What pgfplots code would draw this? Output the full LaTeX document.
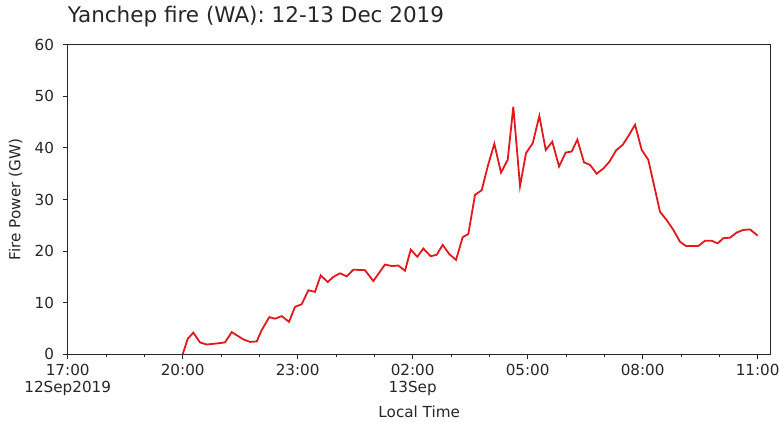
\documentclass[border=0pt]{standalone}
\usepackage{fontspec}
\setmainfont{DejaVu Sans}
\usepackage{pgfplots}
\pgfplotsset{compat=1.18}
\definecolor{firered}{RGB}{226,24,28}
\definecolor{ink}{RGB}{38,38,38}

% hours since 17:00 local time (12 Sep), fire power in GW
\pgfplotstableread{
h      gw
3.000  0.0
3.131  3.0
3.277  4.2
3.452  2.3
3.626  1.9
3.887  2.1
4.104  2.3
4.279  4.3
4.409  3.7
4.581  2.9
4.756  2.4
4.931  2.5
5.061  4.7
5.260  7.2
5.408  6.9
5.583  7.4
5.774  6.3
5.930  9.2
6.105  9.7
6.277  12.4
6.452  12.1
6.601  15.3
6.783  14.0
6.929  15.0
7.104  15.7
7.279  15.1
7.451  16.4
7.756  16.3
7.973  14.2
8.278  17.4
8.453  17.1
8.625  17.2
8.800  16.2
8.949  20.3
9.121  18.9
9.277  20.5
9.470  19.0
9.627  19.3
9.783  21.2
9.956  19.4
10.131 18.3
10.305 22.7
10.451 23.3
10.626 30.9
10.801 31.8
10.957 36.4
11.130 40.8
11.304 35.2
11.479 37.7
11.625 48.0
11.800 32.6
11.957 39.0
12.131 40.9
12.304 46.2
12.471 39.6
12.643 41.2
12.818 36.4
12.992 39.1
13.149 39.3
13.295 41.6
13.470 37.2
13.627 36.7
13.801 35.0
13.973 36.0
14.130 37.3
14.305 39.5
14.480 40.6
14.644 42.5
14.801 44.5
14.975 39.6
15.147 37.7
15.304 32.5
15.453 27.6
15.627 26.0
15.800 24.1
15.975 21.8
16.131 21.0
16.280 21.0
16.452 21.0
16.627 22.0
16.801 22.0
16.957 21.5
17.104 22.5
17.279 22.6
17.453 23.6
17.626 24.1
17.801 24.2
18.000 23.0
}\firedata

\begin{document}
\fontsize{15.2bp}{18bp}\selectfont
\begin{tikzpicture}
\begin{axis}[
    name=ax,
    scale only axis,
    width=703bp, height=309.6bp,
    xmin=0, xmax=18.34, ymin=0, ymax=60,
    xtick={0,3,...,18},
    xticklabels={{17:00\\12Sep2019},20:00,23:00,{02:00\\13Sep},05:00,08:00,11:00},
    minor xtick={1,2,4,5,7,8,10,11,13,14,16,17},
    ytick={0,10,...,60},
    xtick pos=left, ytick pos=left,
    tick align=outside,
    major tick length=5bp, minor tick length=3bp,
    every tick/.style={ink, line width=1bp},
    axis line style={ink, line width=1.1bp},
    /pgf/number format/assume math mode=true,
    tick label style={text=ink, font=\fontsize{15.2bp}{17bp}\selectfont},
    xticklabel style={align=center},
    yticklabel style={xshift=-3.5bp},
    xlabel={Local Time},
    ylabel={Fire Power (GW)},
    label style={text=ink, font=\fontsize{15.2bp}{17bp}\selectfont},
    ylabel style={xshift=0bp, yshift=2bp},
    title={Yanchep fire (WA): 12-13 Dec 2019},
    title style={at={(0,1)}, anchor=base west, yshift=16.5bp, inner sep=0pt,
                 text=ink, font=\fontsize{21.5bp}{25bp}\selectfont},
]
\addplot[firered, line width=1.8bp] table[x=h, y=gw] {\firedata};
\end{axis}
\pgfresetboundingbox
\path[use as bounding box] ([xshift=-67.7bp,yshift=-67.7bp]ax.south west)
    rectangle ([xshift=8.3bp,yshift=44.7bp]ax.north east);
\end{tikzpicture}
\end{document}
